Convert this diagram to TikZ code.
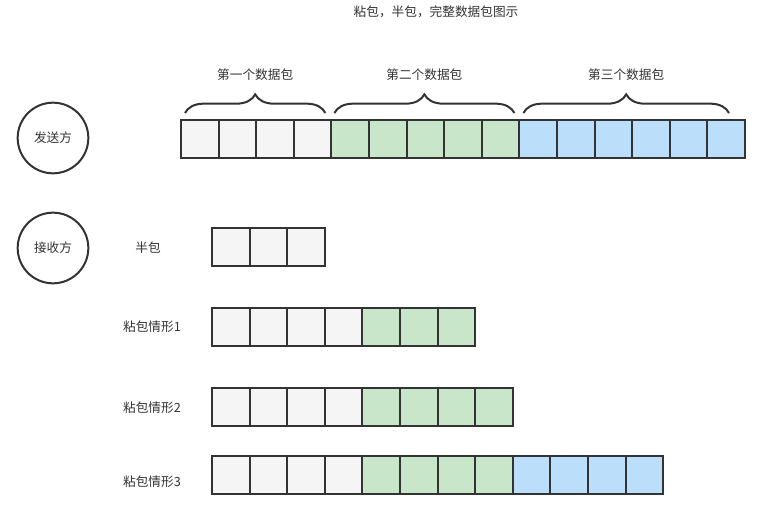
\documentclass[tikz,border=0pt]{standalone}
\usepackage{fontspec}
\setmainfont{Noto Sans CJK SC}
\usepackage{xcolor}
\usepackage{tikz}
\usetikzlibrary{calc,decorations.pathreplacing}
\definecolor{Gris}{HTML}{F5F5F5}
\definecolor{Verde}{HTML}{C8E6C9}
\definecolor{Azul}{HTML}{BBDEFB}
\definecolor{Borde}{HTML}{333333}

\begin{document}
\begin{tikzpicture}[x=0.75pt,y=-0.75pt,
    celda/.style={draw=Borde,line width=1.5pt,minimum width=28.2pt,minimum height=28.5pt,
      inner sep=0pt,outer sep=0pt,anchor=north west},
    texto/.style={text=Borde,font=\fontsize{9.5}{11}\selectfont,inner sep=1pt},
    extremo/.style={draw=Borde,line width=1.5pt,circle,minimum size=53pt,inner sep=0pt,
      font=\fontsize{9.5}{11}\selectfont,text=Borde},
    llave/.style={draw=Borde,line width=1.5pt,decorate,decoration={brace,amplitude=14pt,aspect=0.5}}]
  \useasboundingbox (0,0) rectangle (772,506);
  \node[texto] (titulo) at (436,12) {粘包，半包，完整数据包图示};
  % emisor
  \node[extremo] (emisor) at (53,138) {发送方};
  \foreach \c [count=\i] in {Gris,Gris,Gris,Gris,Verde,Verde,Verde,Verde,Verde,Azul,Azul,Azul,Azul,Azul,Azul}
    \node[celda,fill=\c] (s\i) at ({181+(\i-1)*37.6},120) {};
  % llaves de los tres paquetes
  \coordinate (l1a) at ($(s1.north west)+(4,-7)$);  \coordinate (l1b) at ($(s4.north east)+(-6,-7)$);
  \coordinate (l2a) at ($(s5.north west)+(3,-7)$);  \coordinate (l2b) at ($(s9.north east)+(-5,-7)$);
  \coordinate (l3a) at ($(s10.north west)+(4,-7)$); \coordinate (l3b) at ($(s15.north east)+(-16,-7)$);
  \draw[llave] (l1a) -- (l1b);
  \draw[llave] (l2a) -- (l2b);
  \draw[llave] (l3a) -- (l3b);
  \node[texto] (p1) at ($(l1a)!0.5!(l1b)+(0,-38)$) {第一个数据包};
  \node[texto] (p2) at ($(l2a)!0.5!(l2b)+(0,-38)$) {第二个数据包};
  \node[texto] (p3) at ($(l3a)!0.5!(l3b)+(0,-38)$) {第三个数据包};
  % receptor
  \node[extremo] (receptor) at (53,248) {接收方};
  \node[texto] (medio) at (148,248) {半包};
  \foreach \c [count=\i] in {Gris,Gris,Gris}
    \node[celda,fill=\c] (h\i) at ({212+(\i-1)*37.6},228) {};
  \node[texto] (caso1) at (152,327) {粘包情形1};
  \foreach \c [count=\i] in {Gris,Gris,Gris,Gris,Verde,Verde,Verde}
    \node[celda,fill=\c] (a\i) at ({212+(\i-1)*37.6},308) {};
  \node[texto] (caso2) at (152,408) {粘包情形2};
  \foreach \c [count=\i] in {Gris,Gris,Gris,Gris,Verde,Verde,Verde,Verde}
    \node[celda,fill=\c] (b\i) at ({212+(\i-1)*37.6},388) {};
  \node[texto] (caso3) at (152,482) {粘包情形3};
  \foreach \c [count=\i] in {Gris,Gris,Gris,Gris,Verde,Verde,Verde,Verde,Azul,Azul,Azul,Azul}
    \node[celda,fill=\c] (c\i) at ({212+(\i-1)*37.6},456) {};
\end{tikzpicture}
\end{document}
